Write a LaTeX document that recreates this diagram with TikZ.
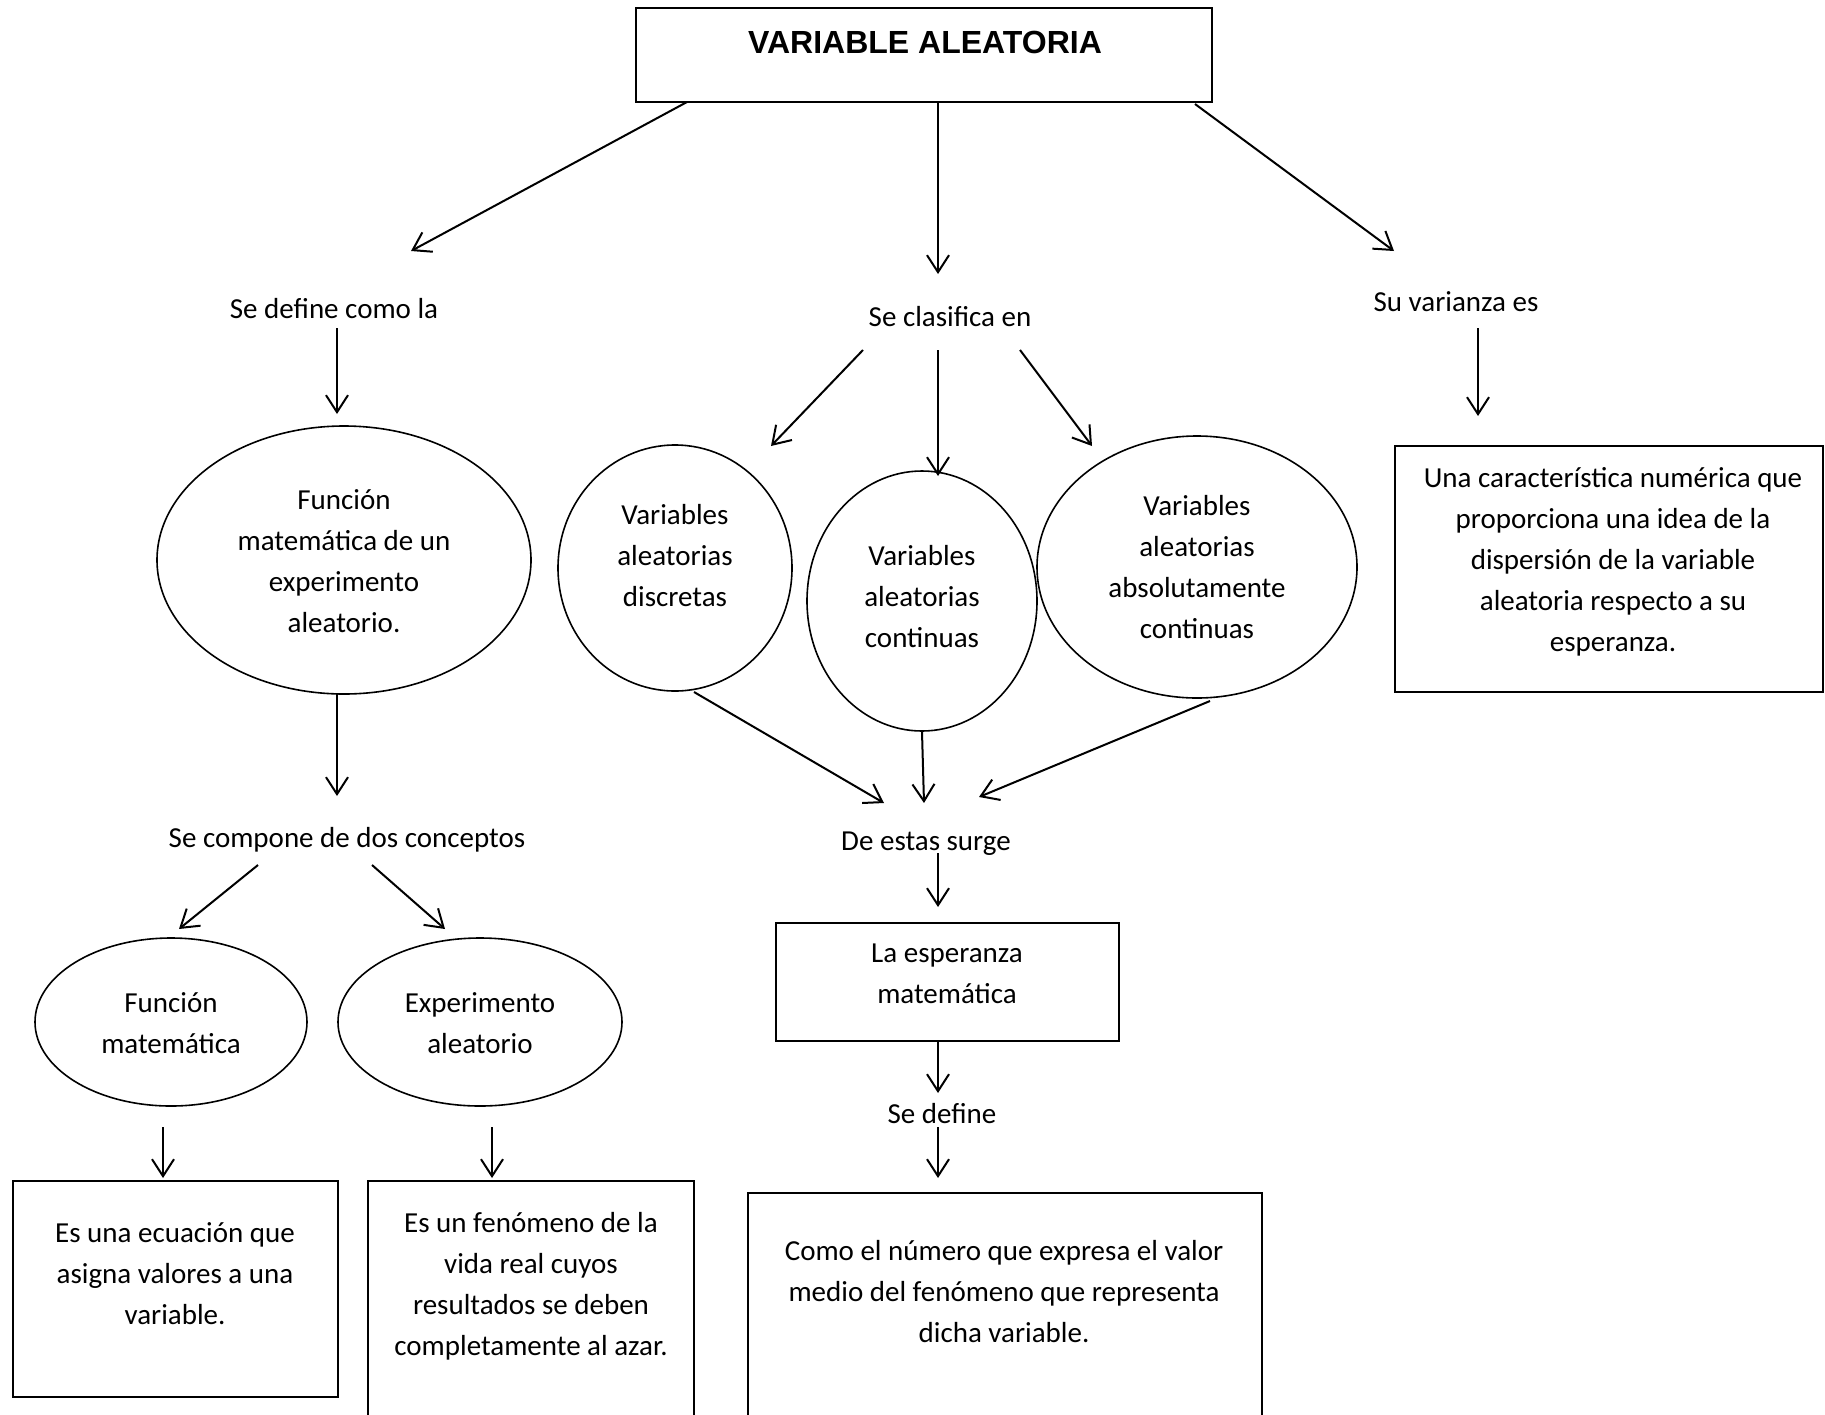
\documentclass[tikz,border=0pt]{standalone}
\usepackage{fontspec}
\setmainfont{Carlito}
\newfontfamily\titlefont{Liberation Sans}
\usetikzlibrary{shapes.geometric,arrows.meta}
\begin{document}
\begin{tikzpicture}[x=1pt,y=-1pt,
  txt/.style={align=center,inner sep=0pt,font=\fontsize{29}{41}\selectfont},
  boxn/.style={draw,line width=1.8pt,inner sep=0pt},
  ell/.style={draw,ellipse,line width=1.6pt,inner sep=0pt},
  arr/.style={line width=2pt,-{Straight Barb[length=17pt,width=22pt,line width=2pt]}}]
\useasboundingbox[fill=white] (0,0) rectangle (1825,1414);
% boxes
\node[boxn,minimum width=576pt,minimum height=94pt] (title) at (924,55) {};
\node[font=\titlefont\bfseries\fontsize{32}{38}\selectfont,inner sep=0pt] (titletxt) at (925,42) {VARIABLE ALEATORIA};
\node[boxn,minimum width=428pt,minimum height=246pt] (varbox) at (1609,569) {};
\node[boxn,minimum width=343pt,minimum height=118pt] (espbox) at (947.5,982) {};
\node[boxn,minimum width=325pt,minimum height=216pt] (b1) at (175.5,1289) {};
\node[boxn,minimum width=326pt,minimum height=260pt] (b2) at (531,1311) {};
\node[boxn,minimum width=514pt,minimum height=250pt] (b3) at (1005,1318) {};
% ellipses
\node[ell,minimum width=374pt,minimum height=268pt] (ef) at (344,560) {};
\node[ell,minimum width=234pt,minimum height=246pt] (ed) at (675,568) {};
\node[ell,minimum width=230pt,minimum height=260pt] (ec) at (922,601) {};
\node[ell,minimum width=320pt,minimum height=262pt] (ea) at (1197,567) {};
\node[ell,minimum width=272pt,minimum height=168pt] (efm) at (171,1022) {};
\node[ell,minimum width=284pt,minimum height=168pt] (eea) at (480,1022) {};
% texts
\node[txt] (t1) at (334,309) {Se define como la};
\node[txt] (t2) at (950,317) {Se clasifica en};
\node[txt] (t3) at (1456,302) {Su varianza es};
\node[txt] (tf) at (344,561) {Función\\matemática de un\\experimento\\aleatorio.};
\node[txt] (td) at (675,556) {Variables\\aleatorias\\discretas};
\node[txt] (tc) at (922,597) {Variables\\aleatorias\\continuas};
\node[txt] (ta) at (1197,567) {Variables\\aleatorias\\absolutamente\\continuas};
\node[txt] (tv) at (1613,562) {Una característica numérica que\\proporciona una idea de la\\dispersión de la variable\\aleatoria respecto a su\\esperanza.};
\node[txt] (tcomp) at (347,840) {Se compone de dos conceptos};
\node[txt] (tsurge) at (926,844) {De estas surge};
\node[txt] (tesp) at (947,974) {La esperanza\\matemática};
\node[txt] (tdef) at (942,1114) {Se define};
\node[txt] (tfm) at (171,1023) {Función\\matemática};
\node[txt] (tea) at (480,1023) {Experimento\\aleatorio};
\node[txt] (tb1) at (175,1274) {Es una ecuación que\\asigna valores a una\\variable.};
\node[txt] (tb2) at (531,1286) {Es un fenómeno de la\\vida real cuyos\\resultados se deben\\completamente al azar.};
\node[txt] (tb3) at (1004,1292) {Como el número que expresa el valor\\medio del fenómeno que representa\\dicha variable.};
% connector endpoints
\coordinate (a1s) at (687,102);  \coordinate (a1e) at (411,251);
\coordinate (a2s) at (938,102);  \coordinate (a2e) at (938,274);
\coordinate (a3s) at (1195,104); \coordinate (a3e) at (1394,251);
\coordinate (a4s) at (337,328);  \coordinate (a4e) at (337,414);
\coordinate (a5s) at (1478,328); \coordinate (a5e) at (1478,416);
\coordinate (a6s) at (863,350);  \coordinate (a6e) at (771,446);
\coordinate (a7s) at (938,350);  \coordinate (a7e) at (938,476);
\coordinate (a8s) at (1020,350); \coordinate (a8e) at (1092,446);
\coordinate (a9s) at (694,692);  \coordinate (a9e) at (884,803);
\coordinate (a10s) at (922,732); \coordinate (a10e) at (924,803);
\coordinate (a11s) at (1210,701);\coordinate (a11e) at (979,797);
\coordinate (a12s) at (938,853); \coordinate (a12e) at (938,907);
\coordinate (a13s) at (337,694); \coordinate (a13e) at (337,796);
\coordinate (a14s) at (258,865); \coordinate (a14e) at (179,929);
\coordinate (a15s) at (372,865); \coordinate (a15e) at (445,929);
\coordinate (a16s) at (163,1127);\coordinate (a16e) at (163,1178);
\coordinate (a17s) at (492,1127);\coordinate (a17e) at (492,1178);
\coordinate (a18s) at (938,1041);\coordinate (a18e) at (938,1093);
\coordinate (a19s) at (938,1127);\coordinate (a19e) at (938,1178);
\foreach \i in {1,...,19} {\draw[arr] (a\i s) -- (a\i e);}
\end{tikzpicture}
\end{document}
